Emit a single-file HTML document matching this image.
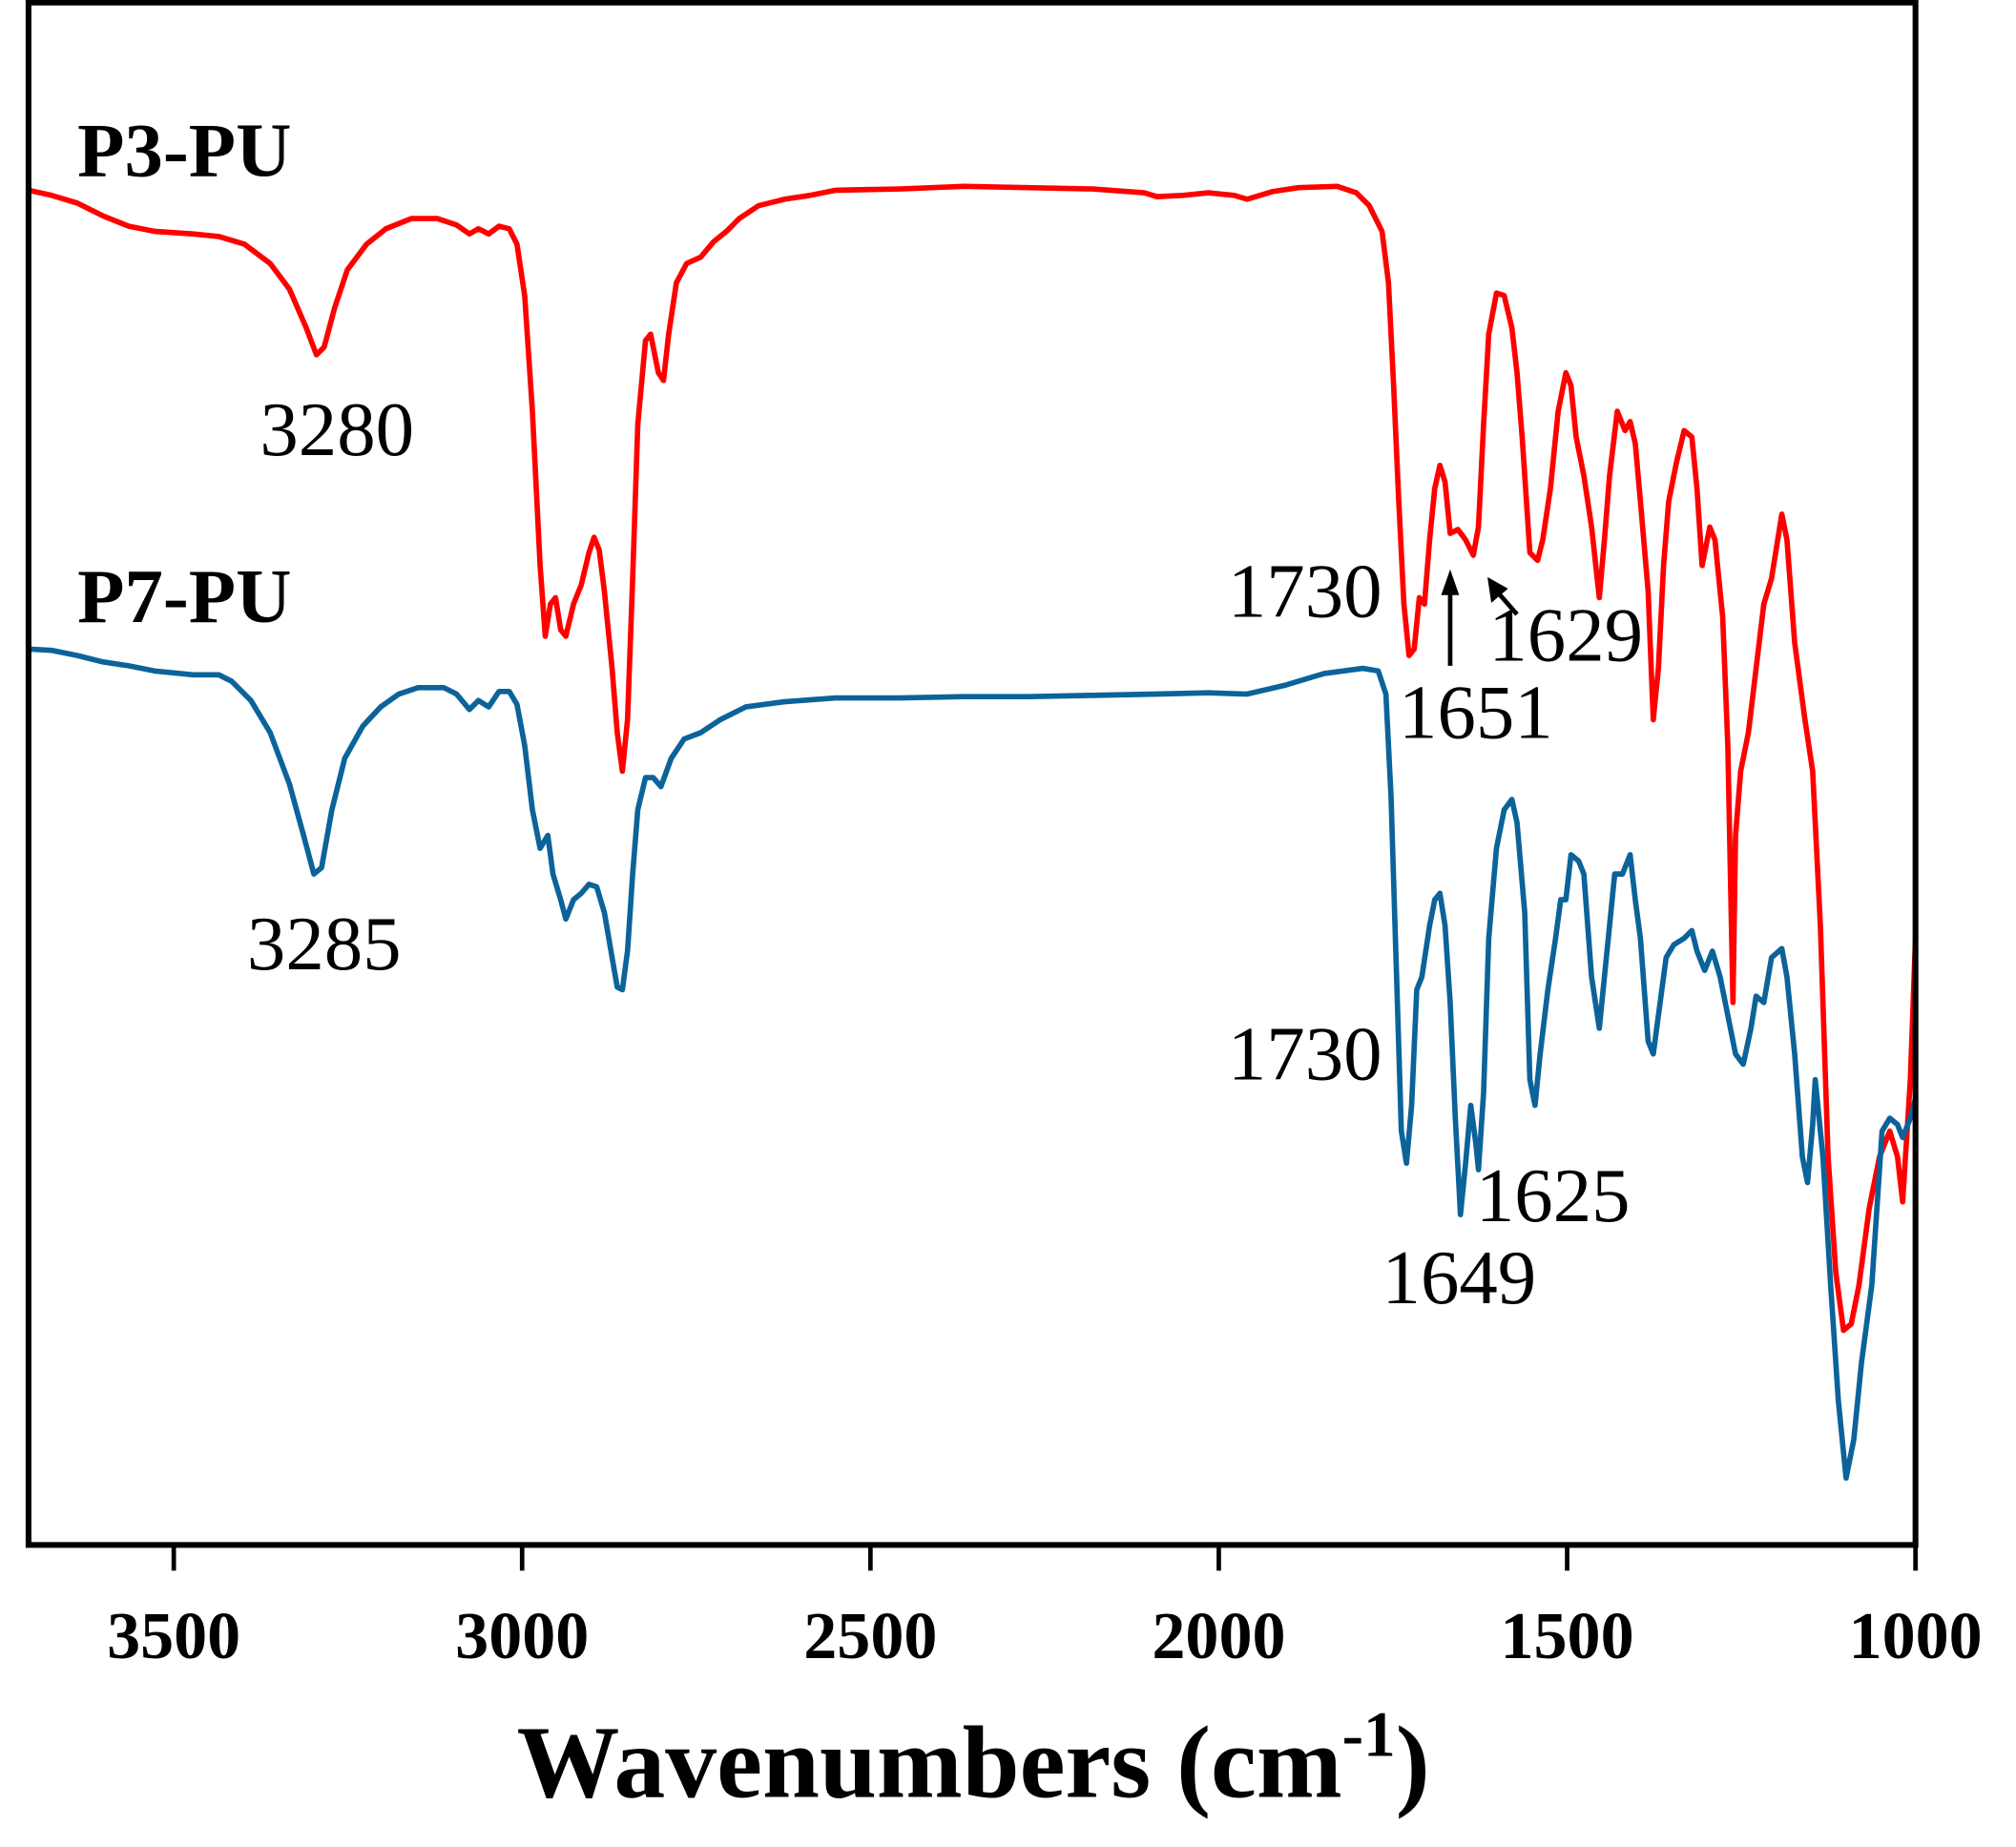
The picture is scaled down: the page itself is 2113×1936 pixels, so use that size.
<!DOCTYPE html>
<html><head><meta charset="utf-8"><style>html,body{margin:0;padding:0;background:#fff}svg{display:block}</style></head>
<body>
<svg width="2113" height="1936" viewBox="0 0 1568 1437" xmlns="http://www.w3.org/2000/svg">
<rect width="1568" height="1437" fill="#fff"/>
<g fill="none" stroke-linejoin="round" stroke-linecap="round" stroke-width="4.2">
<polyline stroke="#ff0000" points="22,148 40,152 60,158 80,168 100,176 120,180 150,182 170,184 190,190 210,205 225,225 238,255 246,276 252,270 260,240 270,210 285,190 300,178 320,170 340,170 355,175 365,182 372,178 380,182 388,176 396,178 402,190 408,230 414,320 420,440 424,495 428,470 432,465 436,490 440,495 446,470 452,455 458,430 462,418 466,428 470,460 476,520 480,570 484,600 488,560 492,450 496,330 502,265 506,260 512,290 516,296 520,260 526,220 534,205 545,200 555,188 565,180 575,170 590,160 610,155 630,152 650,148 700,147 750,145 800,146 850,147 890,150 900,153 920,152 940,150 960,152 970,155 990,149 1010,146 1040,145 1055,150 1065,160 1075,180 1080,220 1084,300 1088,390 1092,470 1096,510 1100,505 1104,465 1108,470 1112,420 1116,380 1120,362 1124,375 1128,415 1134,412 1140,420 1146,432 1150,410 1154,330 1158,260 1164,228 1170,230 1176,255 1180,290 1184,340 1190,430 1196,436 1200,420 1206,380 1212,320 1218,290 1222,300 1226,340 1232,370 1238,410 1244,465 1248,420 1252,370 1258,320 1264,335 1268,328 1272,345 1276,390 1282,460 1286,560 1290,520 1294,440 1298,390 1304,360 1310,335 1316,340 1320,380 1324,440 1330,410 1334,420 1340,480 1344,580 1348,780 1350,650 1354,600 1360,570 1366,520 1372,470 1378,450 1386,400 1390,420 1396,500 1404,560 1410,600 1416,720 1422,900 1428,990 1434,1035 1440,1030 1446,1000 1454,940 1462,900 1470,880 1476,900 1480,935 1486,840 1490,730"/>
<polyline stroke="#0b6399" points="22,505 40,506 60,510 80,515 100,518 120,522 150,525 170,525 180,530 195,545 210,570 225,610 236,650 244,680 250,675 258,630 268,590 282,565 296,550 310,540 325,535 345,535 355,540 365,552 372,545 380,550 388,538 396,538 402,548 408,580 414,630 420,660 426,650 430,680 436,700 440,715 446,700 452,695 458,688 464,690 470,710 476,745 480,768 484,770 488,740 492,680 496,630 502,605 508,605 514,612 522,590 532,575 545,570 560,560 580,550 610,546 650,543 700,543 750,542 800,542 850,541 900,540 940,539 970,540 1000,533 1030,524 1060,520 1072,522 1078,540 1082,620 1086,750 1090,880 1094,905 1098,860 1102,770 1106,760 1112,720 1116,700 1120,695 1124,720 1128,780 1132,870 1136,945 1140,905 1144,860 1148,890 1150,910 1154,850 1158,730 1164,660 1170,630 1176,622 1180,640 1186,710 1190,840 1194,860 1198,820 1204,770 1210,730 1214,700 1218,700 1222,665 1228,670 1232,680 1238,760 1244,800 1248,760 1252,720 1256,680 1262,680 1268,665 1272,700 1276,730 1282,810 1286,820 1290,790 1296,745 1302,735 1310,730 1316,724 1320,740 1326,755 1332,740 1338,760 1344,790 1350,820 1356,828 1362,800 1366,775 1372,780 1378,745 1386,738 1390,760 1396,820 1402,900 1406,920 1410,875 1412,840 1418,900 1424,1000 1430,1090 1436,1150 1442,1120 1448,1060 1456,1000 1464,880 1470,870 1476,875 1480,885 1486,870 1490,855"/>
</g>
<rect x="22" y="2" width="1468" height="1200" fill="none" stroke="#000" stroke-width="4.5"/>
<g stroke="#000" stroke-width="3.5">
<line x1="135" y1="1202" x2="135" y2="1222"/><line x1="406" y1="1202" x2="406" y2="1222"/><line x1="677" y1="1202" x2="677" y2="1222"/><line x1="948" y1="1202" x2="948" y2="1222"/><line x1="1219" y1="1202" x2="1219" y2="1222"/><line x1="1490" y1="1202" x2="1490" y2="1222"/>
<line x1="1128" y1="518" x2="1128" y2="458"/><line x1="1180" y1="478" x2="1166" y2="462"/>
</g>
<polygon points="1128,443 1121,463 1135,463" fill="#000"/>
<polygon points="1157,449 1160,469 1173,458" fill="#000"/>
<g font-family="Liberation Serif, serif" font-weight="bold" font-size="52" text-anchor="middle" fill="#000">
<text x="135" y="1290">3500</text><text x="406" y="1290">3000</text><text x="677" y="1290">2500</text><text x="948" y="1290">2000</text><text x="1219" y="1290">1500</text><text x="1490" y="1290">1000</text>
</g>
<text x="757" y="1398" font-family="Liberation Serif, serif" font-weight="bold" font-size="80" text-anchor="middle">Wavenumbers (cm<tspan font-size="50" dy="-32">-1</tspan><tspan dy="32">)</tspan></text>
<g font-family="Liberation Serif, serif" font-weight="bold" font-size="60">
<text x="60" y="137">P3-PU</text><text x="60" y="484">P7-PU</text>
</g>
<g font-family="Liberation Serif, serif" font-size="60">
<text x="202" y="354">3280</text><text x="192" y="754">3285</text>
<text x="955" y="480">1730</text><text x="1088" y="574">1651</text><text x="1158" y="514">1629</text>
<text x="955" y="840">1730</text><text x="1148" y="950">1625</text><text x="1075" y="1014">1649</text>
</g>
</svg>
</body></html>
